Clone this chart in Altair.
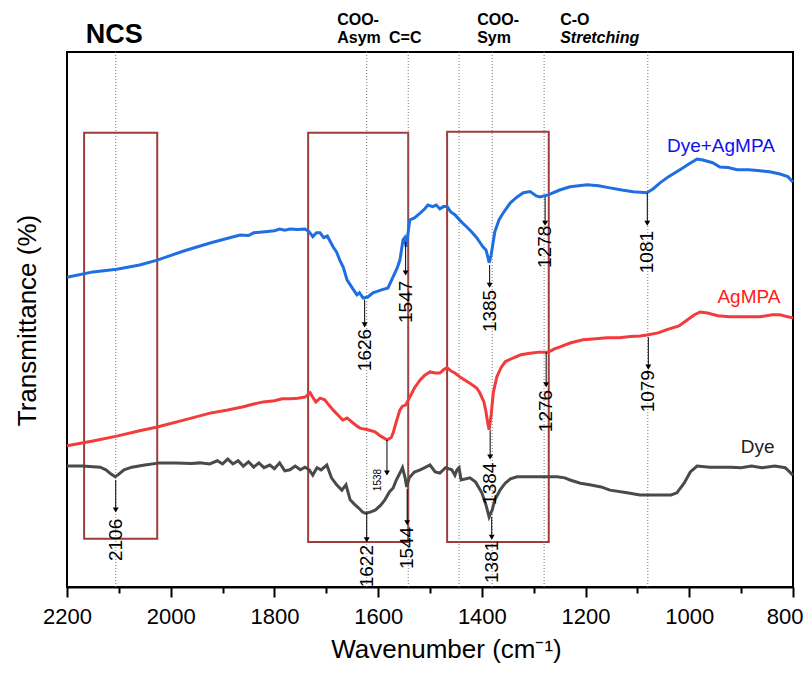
import altair as alt
import pandas as pd

FONT = "Liberation Sans"

# ---- spectra: (wavenumber cm-1, transmittance, arbitrary offset units) ----
dye_agmpa = [
    (2200, 57.9), (2150, 58.9), (2104, 59.4), (2060, 60.2), (2026, 61.1), (1975, 62.8),
    (1924, 64.3), (1890, 65.2), (1866, 65.8), (1850, 65.7), (1840, 66.2), (1818, 66.4),
    (1800, 66.6), (1790, 66.9), (1780, 66.7), (1770, 66.9), (1755, 66.8), (1741, 66.9),
    (1733, 66.4), (1726, 65.5), (1719, 66.2), (1712, 66.2), (1705, 65.3), (1698, 65.6),
    (1687, 63.6), (1680, 62.6), (1674, 61.1), (1667, 59.7), (1660, 57.4), (1650, 55.9),
    (1641, 54.6), (1636, 55.0), (1629, 54.0), (1620, 54.2), (1610, 55.0), (1595, 55.5),
    (1581, 55.9), (1571, 58.0), (1563, 59.7), (1558, 61.1), (1552, 64.9), (1549, 65.3),
    (1546, 63.6), (1539, 68.6), (1530, 69.0), (1519, 69.9), (1510, 70.7), (1504, 71.4),
    (1495, 71.1), (1488, 71.4), (1481, 70.7), (1474, 71.1), (1467, 71.1), (1460, 70.1),
    (1452, 69.6), (1440, 68.3), (1429, 67.3), (1420, 66.4), (1410, 65.3), (1403, 64.3),
    (1398, 63.6), (1392, 63.0), (1388, 61.5), (1386, 60.6), (1382, 62.1), (1375, 66.4),
    (1367, 68.6), (1359, 69.9), (1345, 71.8), (1332, 72.9), (1320, 73.7), (1307, 73.9),
    (1295, 73.1), (1288, 72.9), (1272, 73.3), (1250, 74.2), (1230, 74.8), (1197, 75.2),
    (1175, 75.0), (1153, 74.6), (1130, 74.2), (1108, 73.9), (1082, 73.7), (1070, 74.4),
    (1057, 75.5), (1040, 76.7), (1018, 78.0), (1000, 79.1), (985, 80.0), (974, 79.8),
    (955, 79.3), (941, 78.5), (925, 78.4), (908, 78.0), (885, 78.0), (864, 77.8),
    (845, 77.6), (825, 77.2), (810, 76.7), (800, 75.7),
]

agmpa = [
    (2200, 26.4), (2150, 27.3), (2104, 28.2), (2060, 29.2), (2026, 29.9), (1975, 31.2),
    (1924, 32.5), (1890, 33.1), (1860, 33.7), (1840, 34.2), (1822, 34.6), (1800, 34.8),
    (1785, 35.2), (1770, 35.2), (1755, 35.3), (1741, 35.5), (1731, 36.3), (1725, 35.3),
    (1720, 34.6), (1712, 35.3), (1703, 35.0), (1695, 34.0), (1687, 33.1), (1678, 32.2),
    (1668, 31.2), (1660, 31.6), (1649, 30.7), (1641, 30.1), (1635, 29.7), (1620, 29.4),
    (1606, 29.0), (1595, 28.2), (1583, 27.5), (1575, 27.9), (1571, 28.8), (1565, 30.9),
    (1558, 33.1), (1553, 33.8), (1547, 34.0), (1539, 35.5), (1530, 37.2), (1519, 38.7),
    (1510, 39.6), (1500, 40.2), (1490, 40.0), (1481, 40.0), (1474, 40.6), (1467, 41.0),
    (1460, 40.4), (1452, 40.0), (1440, 39.1), (1423, 38.1), (1410, 37.2), (1404, 36.3),
    (1396, 34.6), (1392, 32.7), (1388, 30.3), (1386, 29.4), (1382, 32.2), (1378, 36.3),
    (1371, 39.3), (1363, 41.0), (1355, 42.1), (1340, 42.8), (1325, 43.4), (1307, 43.7),
    (1290, 43.9), (1272, 43.9), (1260, 44.5), (1249, 44.9), (1230, 45.6), (1205, 46.2),
    (1180, 46.4), (1159, 46.6), (1135, 46.6), (1114, 46.8), (1095, 46.9), (1082, 47.1),
    (1060, 47.5), (1043, 48.1), (1020, 48.8), (1004, 49.9), (990, 50.9), (979, 51.4),
    (965, 51.2), (945, 50.7), (922, 50.5), (900, 50.5), (864, 50.5), (840, 50.9),
    (825, 50.9), (810, 50.5), (800, 50.3),
]

dye = [
    (2200, 22.6), (2170, 22.6), (2136, 22.4), (2125, 21.9), (2115, 21.1), (2107, 20.6),
    (2100, 21.1), (2090, 21.9), (2075, 22.4), (2050, 22.8), (2021, 23.2), (1990, 23.2),
    (1960, 23.1), (1944, 23.2), (1925, 23.0), (1910, 23.6), (1900, 23.0), (1890, 23.9),
    (1880, 23.0), (1870, 23.6), (1860, 22.6), (1850, 23.4), (1840, 22.4), (1830, 23.2),
    (1820, 22.3), (1809, 22.8), (1800, 22.1), (1790, 23.2), (1780, 21.7), (1770, 21.9),
    (1760, 22.6), (1750, 21.9), (1741, 22.4), (1733, 21.9), (1726, 20.9), (1718, 22.3),
    (1710, 21.9), (1699, 22.8), (1690, 20.4), (1680, 19.1), (1670, 18.1), (1662, 19.1),
    (1654, 16.3), (1646, 15.5), (1638, 14.8), (1630, 14.0), (1625, 13.8), (1615, 14.0),
    (1605, 14.4), (1595, 15.3), (1587, 16.3), (1578, 17.8), (1571, 18.5), (1565, 20.0),
    (1558, 21.3), (1553, 22.3), (1548, 20.4), (1545, 18.7), (1540, 20.4), (1530, 21.5),
    (1519, 21.9), (1510, 22.3), (1500, 22.8), (1490, 21.5), (1481, 21.3), (1470, 22.3),
    (1458, 21.9), (1452, 20.9), (1448, 21.9), (1444, 22.3), (1440, 20.0), (1423, 20.4),
    (1412, 19.6), (1400, 17.6), (1392, 15.3), (1386, 13.1), (1380, 14.4), (1375, 16.3),
    (1365, 18.1), (1355, 19.4), (1345, 20.2), (1332, 20.6), (1310, 20.6), (1288, 20.6),
    (1255, 20.6), (1240, 20.4), (1230, 20.0), (1210, 19.4), (1192, 19.1), (1170, 18.7),
    (1153, 18.1), (1120, 17.6), (1095, 17.2), (1075, 17.2), (1051, 17.2), (1035, 17.2),
    (1024, 17.6), (1010, 19.4), (998, 21.5), (985, 22.6), (960, 22.4), (941, 22.4),
    (920, 22.4), (900, 22.3), (880, 22.6), (860, 22.3), (835, 22.6), (815, 22.3),
    (800, 20.9),
]

series_names = ["Dye+AgMPA", "AgMPA", "Dye"]
series_colors = ["#1f6fe3", "#f23c3c", "#4a4a4a"]
label_colors = ["#1010f0", "#ff1a1a", "#222222"]
label_wn = [939, 885, 868]
label_t = [81.3, 53.1, 25.0]

# ---- peak arrows ----
peak_wn = [2106, 1626, 1547, 1385, 1278, 1081, 1583, 1384, 1276, 1079, 1622, 1544, 1381]
peak_from = [20.0, 53.7, 64.5, 60.2, 72.9, 73.6, 27.5, 29.3, 43.9, 46.7, 13.8, 18.3, 13.1]
peak_to = [14.4, 49.0, 58.7, 56.4, 68.0, 68.0, 21.3, 24.3, 37.8, 41.1, 8.8, 12.0, 9.3]
peak_label_wn = [2106, 1626, 1547, 1385, 1278, 1081, 1600, 1384, 1276, 1079, 1622, 1544, 1381]
peak_label_t = [8.8, 44.3, 53.3, 51.6, 63.6, 62.6, 20.0, 19.3, 32.9, 36.6, 3.9, 7.3, 4.7]
peak_text = ["2106", "1626", "1547", "1385", "1278", "1081", "1538",
             "1384", "1276", "1079", "1622", "1544", "1381"]
peak_size = [19, 19, 19, 19, 19, 19, 10, 19, 19, 19, 19, 19, 19]

# ---- dotted guide lines and boxes ----
guide_wn = [2106, 1622, 1542, 1444, 1380, 1280, 1080]
box_x1 = [2167, 1735, 1467]
box_x2 = [2026, 1542, 1271]
box_top = [84.9, 84.9, 85.1]
box_bottom = [9.0, 8.4, 8.4]

# ---- band labels above the frame ----
band_text = ["COO-", "Asym", "C=C", "COO-", "Sym", "C-O"]
band_wn = [1679, 1679, 1579, 1409, 1409, 1249]
band_t = [105.0, 101.7, 101.7, 105.0, 101.7, 105.0]
italic_text = ["Stretching"]
italic_wn = [1249]
italic_t = [101.7]

rows = []
for name, pts in zip(series_names, [dye_agmpa, agmpa, dye]):
    for w, t in pts:
        rows.append({"series": name, "wn": w, "T": t})
curves = pd.DataFrame(rows)

peaks = pd.DataFrame({"wn": peak_wn, "T": peak_from, "T2": peak_to,
                      "lwn": peak_label_wn, "lt": peak_label_t,
                      "text": peak_text, "size": peak_size})
guides = pd.DataFrame({"wn": guide_wn})
boxes = pd.DataFrame({"wn": box_x1, "wn2": box_x2, "T": box_top, "T2": box_bottom})
bands = pd.DataFrame({"wn": band_wn, "T": band_t, "text": band_text})
italics = pd.DataFrame({"wn": italic_wn, "T": italic_t, "text": italic_text})
labels = pd.DataFrame({"wn": label_wn, "T": label_t, "text": series_names, "color": label_colors})
title_df = pd.DataFrame({"wn": [2109], "T": [101.7], "text": ["NCS"]})

xscale = alt.Scale(domain=[800, 2200], reverse=True, nice=False, zero=False)
yscale = alt.Scale(domain=[0, 100], nice=False, zero=False)

xaxis = alt.Axis(
    values=list(range(2200, 799, -100)),
    labelExpr="datum.value % 200 === 0 ? datum.label : ''",
    format="d",
    tickSize={"condition": {"test": "datum.value % 200 === 0", "value": 10}, "value": 6},
    labelAlign={"condition": {"test": "datum.value === 800", "value": "right"}, "value": "center"},
    labelOffset={"condition": {"test": "datum.value === 800", "value": 10}, "value": 0},
    tickColor="black", tickWidth=2, domainColor="black", domainWidth=2,
    labelFont=FONT, labelFontSize=22, labelColor="black", labelPadding=9,
    labelFlush=False, labelOverlap=False, grid=False,
    title="Wavenumber (cm⁻¹)", titleFont=FONT, titleFontSize=26,
    titleFontWeight="normal", titleColor="black", titlePadding=9, titleX=379,
)
yaxis = alt.Axis(
    labels=False, ticks=False, domain=False, grid=False,
    title="Transmittance (%)", titleFont=FONT, titleFontSize=26,
    titleFontWeight="normal", titleColor="black",
    titleAngle=270, titleX=-40, titleY=268, titleAlign="center", titleBaseline="middle",
)


def X(field="wn"):
    return alt.X(f"{field}:Q", scale=xscale, axis=xaxis)


def Y(field="T"):
    return alt.Y(f"{field}:Q", scale=yscale, axis=yaxis)


box_layer = alt.Chart(boxes).mark_rect(fill=None, stroke="#a03c3c", strokeWidth=2).encode(
    x=X(), x2="wn2:Q", y=Y(), y2="T2:Q"
)

guide_layer = alt.Chart(guides).mark_rule(color="#777777", strokeWidth=1, strokeDash=[1, 2]).encode(
    x=X()
)

curve_layer = alt.Chart(curves).mark_line(strokeWidth=3).encode(
    x=X(), y=Y(),
    color=alt.Color("series:N", scale=alt.Scale(domain=series_names, range=series_colors), legend=None),
    detail="series:N",
)

arrow_layer = alt.Chart(peaks).mark_rule(color="black", strokeWidth=1).encode(
    x=X(), y=Y(), y2="T2:Q"
)
head_layer = alt.Chart(peaks).mark_point(shape="triangle-down", filled=True, color="black",
                                         size=35, opacity=1).encode(
    x=X(), y=Y("T2")
)
peak_text_layer = alt.Chart(peaks).mark_text(angle=270, align="center", baseline="middle",
                                             font=FONT, color="black").encode(
    x=X("lwn"), y=Y("lt"), text="text:N",
    size=alt.Size("size:Q", scale=None, legend=None),
)

band_layer = alt.Chart(bands).mark_text(align="left", baseline="alphabetic", font=FONT,
                                        fontSize=16, fontWeight="bold", color="black").encode(
    x=X(), y=Y(), text="text:N"
)
italic_layer = alt.Chart(italics).mark_text(align="left", baseline="alphabetic", font=FONT,
                                            fontSize=16, fontWeight="bold", fontStyle="italic",
                                            color="black").encode(
    x=X(), y=Y(), text="text:N"
)

ncs_layer = alt.Chart(title_df).mark_text(align="center", baseline="alphabetic", font=FONT,
                                          fontSize=27, fontWeight="bold", color="black").encode(
    x=X(), y=Y(), text="text:N"
)

label_layer = alt.Chart(labels).mark_text(align="center", baseline="alphabetic", font=FONT,
                                          fontSize=19).encode(
    x=X(), y=Y(), text="text:N",
    color=alt.Color("color:N", scale=None, legend=None),
)

chart = alt.layer(
    box_layer, guide_layer, curve_layer, arrow_layer, head_layer,
    peak_text_layer, band_layer, italic_layer, ncs_layer, label_layer,
).properties(
    width=726, height=535,
    padding={"left": 59, "top": 44, "right": 11, "bottom": 82},
    autosize=alt.AutoSizeParams(type="none"),
).configure_view(
    stroke="black", strokeWidth=2
)

chart.save("out.html", embed_options={"renderer": "svg", "actions": False})
